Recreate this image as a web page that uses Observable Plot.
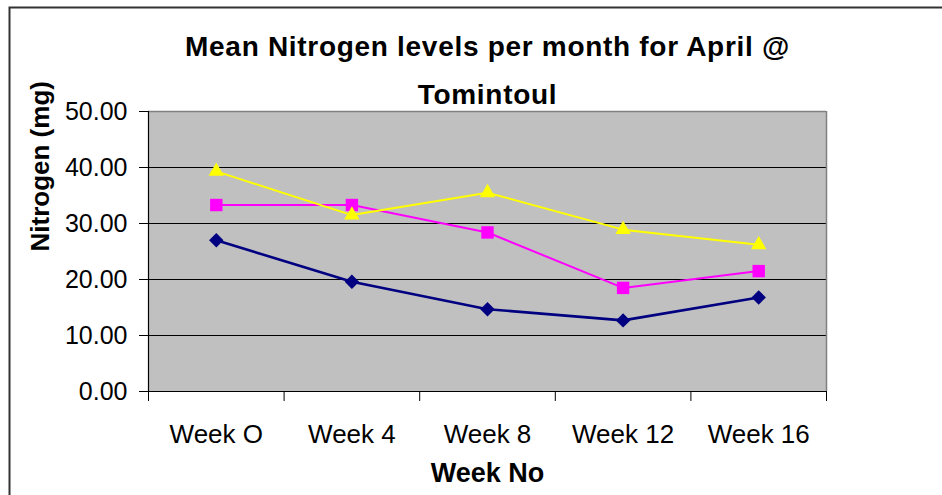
<!DOCTYPE html>
<html><head><meta charset="utf-8">
<script src="https://cdn.jsdelivr.net/npm/d3@7"></script>
<script src="https://cdn.jsdelivr.net/npm/@observablehq/plot@0.6"></script>
<style>
body{margin:0;background:#fff;}
g[font-size="28"] text { letter-spacing: 0.7px; }
</style>
</head><body><div id="chart"></div>
<script>
const weeks = ["Week O", "Week 4", "Week 8", "Week 12", "Week 16"];
const nitrogenA = [27.0, 19.6, 14.7, 12.7, 16.8];
const nitrogenB = [33.3, 33.3, 28.4, 18.5, 21.5];
const nitrogenC = [39.3, 31.5, 35.5, 28.9, 26.2];
const yTicks = [0, 10, 20, 30, 40, 50];
const titleText = "Mean Nitrogen levels per month for April @\nTomintoul";
const xLabel = "Week No";
const yLabel = "Nitrogen (mg)";

const idx = weeks.map((_, i) => i);
const bounds = [-0.5, 0.5, 1.5, 2.5, 3.5, 4.5];
const rows = (vals) => vals.map((v, i) => ({i, v}));
const font = "'Liberation Sans', Arial, Helvetica, sans-serif";

const chart = Plot.plot({
  width: 942, height: 495,
  marginLeft: 148, marginRight: 116, marginTop: 111, marginBottom: 104,
  style: {fontFamily: font, fontSize: "25px", background: "white", color: "black"},
  x: {domain: [-0.5, 4.5], axis: null},
  y: {domain: [0, 50], axis: null},
  marks: [
    Plot.frame({fill: "#C0C0C0", stroke: "none"}),
    Plot.frame({stroke: "#333", strokeWidth: 2, insetTop: -104, insetLeft: -139, insetRight: -130, insetBottom: -130}),
    Plot.ruleY([10, 20, 30, 40], {stroke: "black", strokeWidth: 1}),
    Plot.ruleY([50], {stroke: "#808080", strokeWidth: 1.5}),
    Plot.ruleX([4.5], {stroke: "#808080", strokeWidth: 1.5}),
    Plot.ruleX([-0.5], {stroke: "black", strokeWidth: 1.2}),
    Plot.ruleY([0], {stroke: "black", strokeWidth: 1.2}),
    Plot.axisY({ticks: yTicks, tickSize: 9, tickPadding: 12, tickFormat: d => d.toFixed(2), fontSize: 25, stroke: "black", label: null}),
    Plot.axisX({ticks: bounds, tickSize: 10, tickFormat: () => "", stroke: "black", label: null}),
    Plot.axisX({ticks: idx, tickSize: 0, tickPadding: 33, tickFormat: i => weeks[i], fontSize: 26, label: null}),
    Plot.line(rows(nitrogenA), {x: "i", y: "v", stroke: "#000080", strokeWidth: 2.6}),
    Plot.dot(rows(nitrogenA), {x: "i", y: "v", symbol: "diamond2", r: 6.5, fill: "#000080", stroke: "none"}),
    Plot.line(rows(nitrogenB), {x: "i", y: "v", stroke: "#FF00FF", strokeWidth: 2}),
    Plot.dot(rows(nitrogenB), {x: "i", y: "v", symbol: "square", r: 7, fill: "#FF00FF", stroke: "none"}),
    Plot.line(rows(nitrogenC), {x: "i", y: "v", stroke: "#FFFF00", strokeWidth: 2}),
    Plot.dot(rows(nitrogenC), {x: "i", y: "v", symbol: "triangle", r: 5.7, fill: "#FFFF00", stroke: "none"}),
    Plot.text([titleText], {text: d => d, frameAnchor: "top", lineAnchor: "bottom", dy: -8, lineHeight: 1.68, fontSize: 28, fontWeight: "bold"}),
    Plot.text([yLabel], {text: d => d, frameAnchor: "left", rotate: -90, dx: -108, fontSize: 26, fontWeight: "bold"}),
    Plot.text([xLabel], {text: d => d, frameAnchor: "bottom", lineAnchor: "bottom", dy: 90, fontSize: 27, fontWeight: "bold"})
  ]
});
document.getElementById("chart").appendChild(chart);
</script>
</body></html>
